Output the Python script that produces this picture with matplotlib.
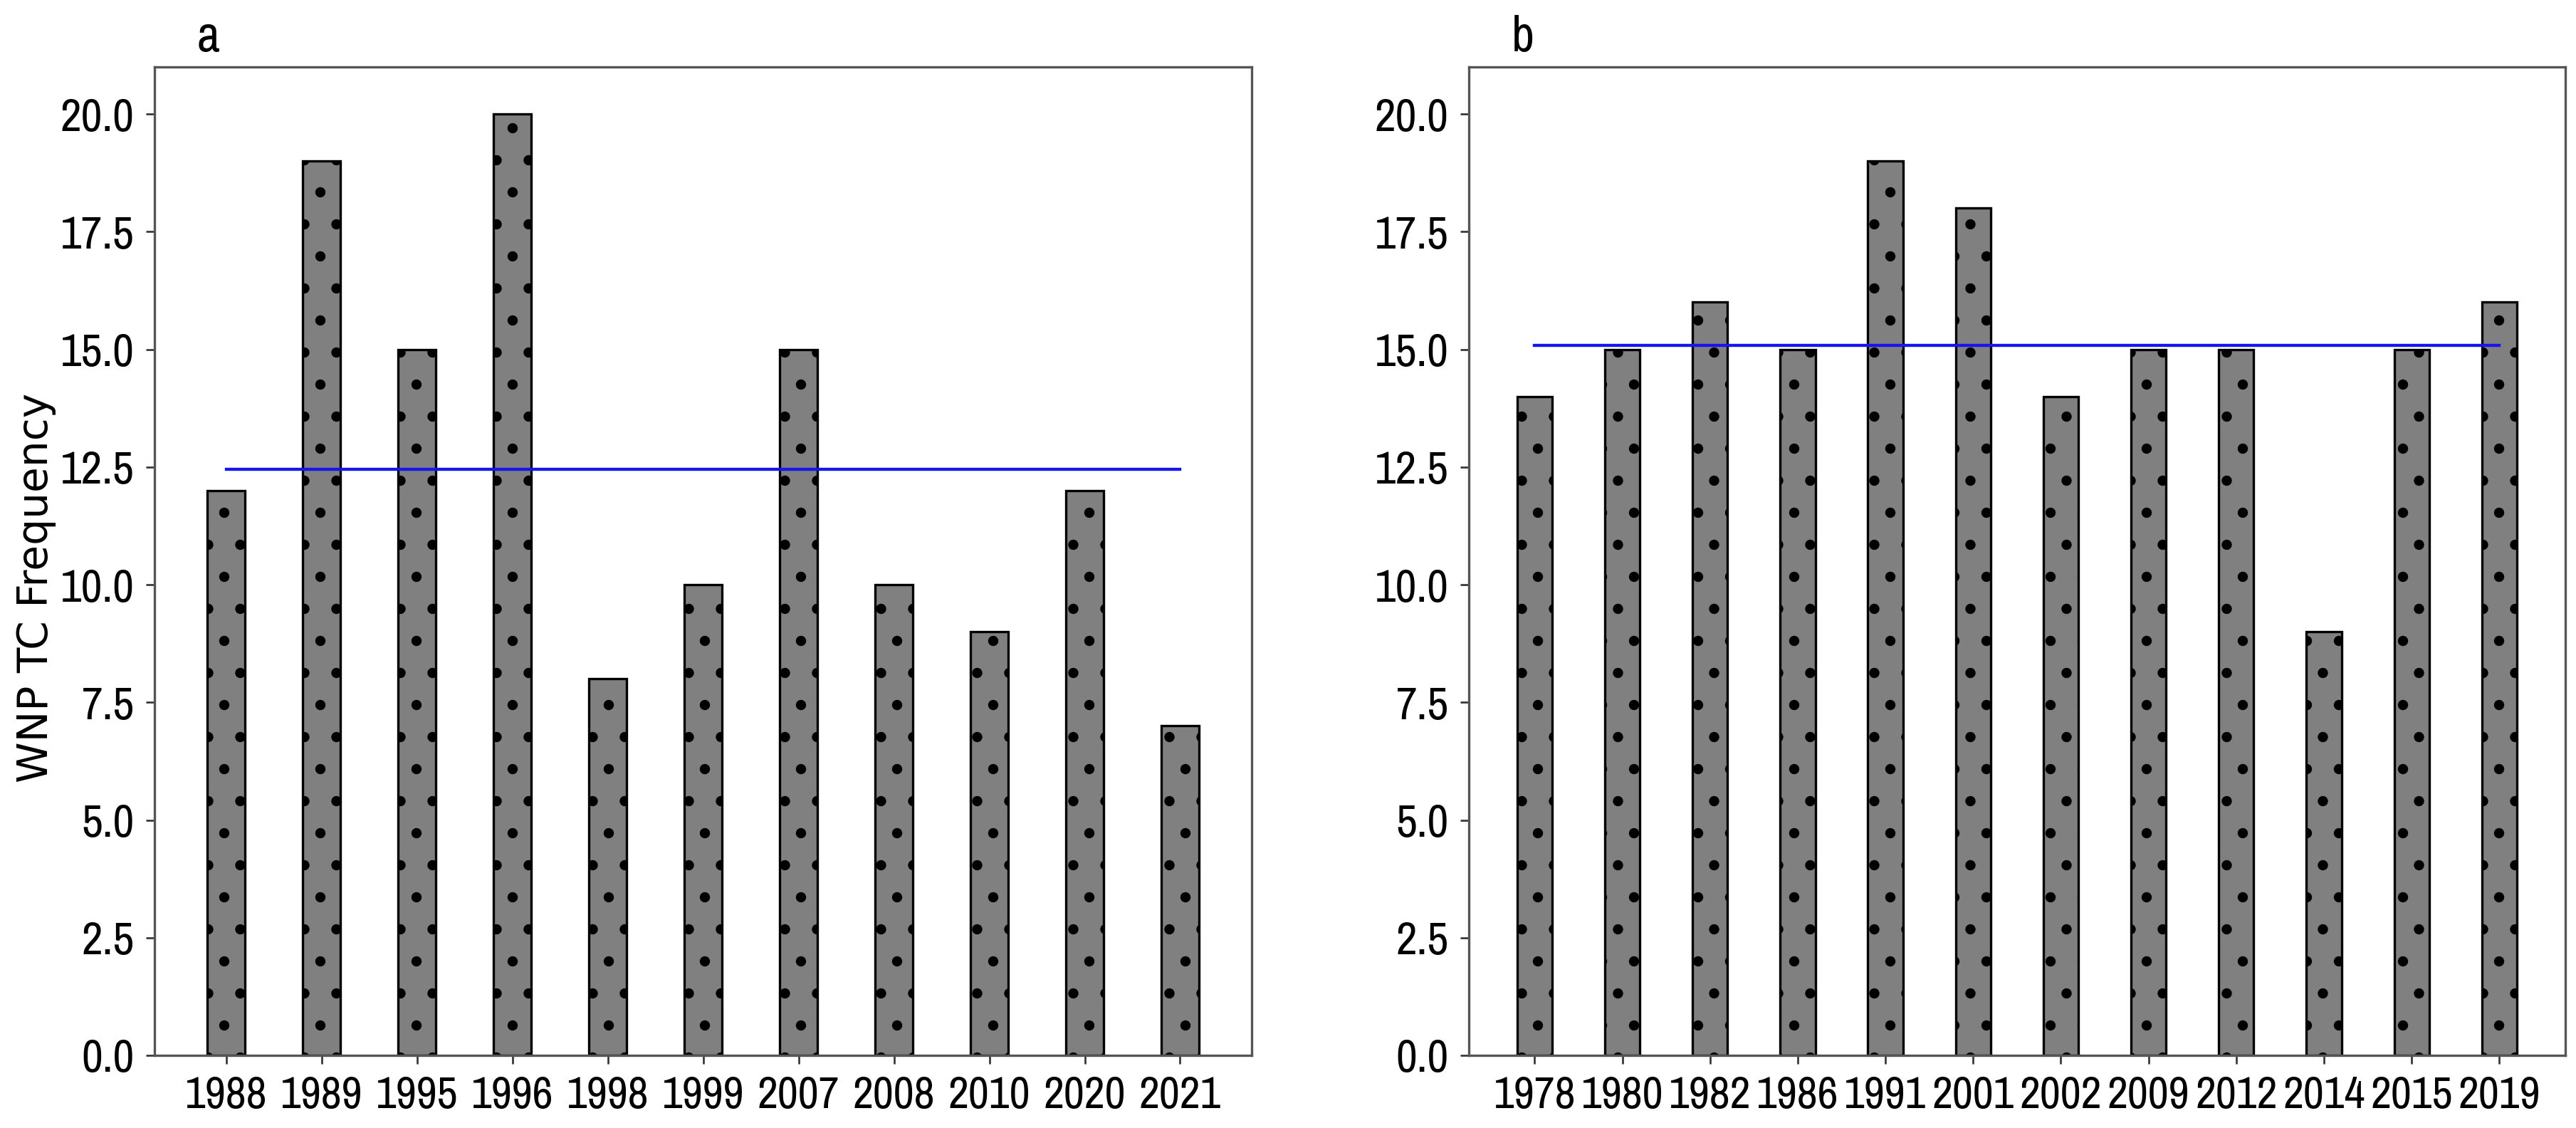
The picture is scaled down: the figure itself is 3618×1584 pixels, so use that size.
import numpy as np
import matplotlib
matplotlib.use("Agg")
import matplotlib.pyplot as plt

# =========================================================
# Data
# =========================================================

years_a = ["1988", "1989", "1995", "1996", "1998", "1999",
           "2007", "2008", "2010", "2020", "2021"]
freq_a = [12, 19, 15, 20, 8, 10, 15, 10, 9, 12, 7]

years_b = ["1978", "1980", "1982", "1986", "1991", "2001",
           "2002", "2009", "2012", "2014", "2015", "2019"]
freq_b = [14, 15, 16, 15, 19, 18, 14, 15, 15, 9, 15, 16]

panel_labels = ["a", "b"]
y_ticks = [0.0, 2.5, 5.0, 7.5, 10.0, 12.5, 15.0, 17.5, 20.0]

# =========================================================
# Style
# =========================================================

DPI = 270
k = 240 / DPI  # sizes below were tuned at 240 dpi

plt.rcParams["hatch.linewidth"] = 1.6 * k
narrow_font = ["Archivo Narrow", "Liberation Sans", "DejaVu Sans"]

fig = plt.figure(figsize=(3618 / DPI, 1584 / DPI), dpi=DPI)

ax_a = fig.add_axes([0.0600, 0.0644, 0.4259, 0.8763])
ax_b = fig.add_axes([0.5702, 0.0644, 0.4256, 0.8763])

for ax, years, freq, label in zip([ax_a, ax_b],
                                  [years_a, years_b],
                                  [freq_a, freq_b],
                                  panel_labels):

    x = np.arange(len(years))

    ax.bar(
        x,
        freq,
        width=0.4,
        color="#808080",
        edgecolor="black",
        linewidth=1.0 * k,
        hatch=".",
    )

    mean_val = np.mean(freq)
    ax.plot([x[0], x[-1]], [mean_val, mean_val], color="#1515f0", linewidth=1.3 * k)

    ax.set_xlim(-0.75, len(years) - 0.25)
    ax.set_ylim(0, 21)

    ax.set_xticks(x)
    ax.set_xticklabels(years, family=narrow_font, fontsize=19 * k)
    ax.set_yticks(y_ticks)
    ax.set_yticklabels([f"{v:.1f}" for v in y_ticks], family=narrow_font, fontsize=19.5 * k)

    ax.tick_params(axis="both", direction="out", length=3.5 * k, width=0.8 * k,
                   color="#333333", pad=5 * k)

    for side in ["top", "bottom", "left", "right"]:
        ax.spines[side].set_color("#555555")
        ax.spines[side].set_linewidth(1.0 * k)

    ax.text(0.049, 1.016, label, transform=ax.transAxes,
            ha="center", va="baseline", fontsize=21 * k, family=narrow_font)

fig.text(0.014, 0.479, "WNP TC Frequency", rotation=90,
         ha="center", va="center", fontsize=17.5 * k, family="DejaVu Sans")

fig.savefig("out.png", dpi=DPI)
